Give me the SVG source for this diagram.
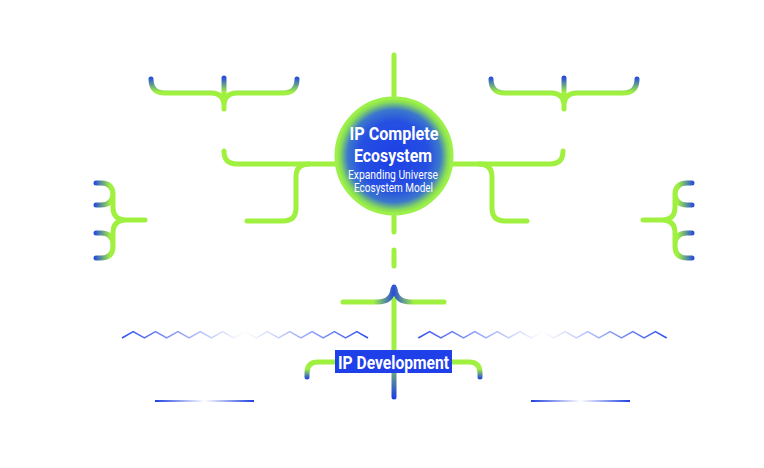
<svg xmlns="http://www.w3.org/2000/svg" width="764" height="468" viewBox="0 0 764 468">
<defs>
<style>
.g{fill:none;stroke:#a0f040;stroke-width:5;stroke-linecap:round;stroke-linejoin:round}
.zz{fill:none;stroke-width:1.5;stroke-linejoin:miter}
.t1{font-family:Roboto,"Liberation Sans",sans-serif;font-weight:bold;fill:#fff}
.t2{font-family:Roboto,"Liberation Sans",sans-serif;fill:#fff}
</style>
<radialGradient id="cg" cx="0.5" cy="0.5" r="0.5">
<stop offset="0" stop-color="#1c3fe6"/>
<stop offset="0.6" stop-color="#2650e2"/>
<stop offset="0.8" stop-color="#3c78cc"/>
<stop offset="0.93" stop-color="#86dc5a"/>
<stop offset="1" stop-color="#a0f040"/>
</radialGradient>
<linearGradient id="topB" gradientUnits="userSpaceOnUse" x1="0" y1="78" x2="0" y2="92">
<stop offset="0" stop-color="#2a4fd8"/><stop offset="1" stop-color="#a0f040"/>
</linearGradient>
<linearGradient id="lB" gradientUnits="userSpaceOnUse" x1="95" y1="0" x2="110" y2="0">
<stop offset="0" stop-color="#2a4fd8"/><stop offset="1" stop-color="#a0f040"/>
</linearGradient>
<linearGradient id="rB" gradientUnits="userSpaceOnUse" x1="693" y1="0" x2="678" y2="0">
<stop offset="0" stop-color="#2a4fd8"/><stop offset="1" stop-color="#a0f040"/>
</linearGradient>
<linearGradient id="vB" gradientUnits="userSpaceOnUse" x1="0" y1="286" x2="0" y2="398">
<stop offset="0" stop-color="#2a4fd8"/><stop offset="0.07" stop-color="#a0f040"/><stop offset="0.6" stop-color="#a0f040"/><stop offset="1" stop-color="#2040e0"/>
</linearGradient>
<linearGradient id="hB" gradientUnits="userSpaceOnUse" x1="343" y1="0" x2="444" y2="0">
<stop offset="0" stop-color="#a0f040"/><stop offset="0.3" stop-color="#a0f040"/><stop offset="0.5" stop-color="#2a4fd8"/><stop offset="0.7" stop-color="#a0f040"/><stop offset="1" stop-color="#a0f040"/>
</linearGradient>
<linearGradient id="dB" gradientUnits="userSpaceOnUse" x1="0" y1="362" x2="0" y2="378">
<stop offset="0" stop-color="#a0f040"/><stop offset="0.45" stop-color="#a0f040"/><stop offset="1" stop-color="#2a4fd8"/>
</linearGradient>
<linearGradient id="zL" gradientUnits="userSpaceOnUse" x1="122" y1="0" x2="368" y2="0">
<stop offset="0" stop-color="#3050f0" stop-opacity="1"/><stop offset="0.5" stop-color="#3050f0" stop-opacity="0"/><stop offset="1" stop-color="#3050f0" stop-opacity="1"/>
</linearGradient>
<linearGradient id="zR" gradientUnits="userSpaceOnUse" x1="418" y1="0" x2="667" y2="0">
<stop offset="0" stop-color="#3050f0" stop-opacity="1"/><stop offset="0.5" stop-color="#3050f0" stop-opacity="0"/><stop offset="1" stop-color="#3050f0" stop-opacity="1"/>
</linearGradient>
<linearGradient id="bL" gradientUnits="userSpaceOnUse" x1="155" y1="0" x2="254" y2="0">
<stop offset="0" stop-color="#2040e0" stop-opacity="1"/><stop offset="0.5" stop-color="#2040e0" stop-opacity="0"/><stop offset="1" stop-color="#2040e0" stop-opacity="1"/>
</linearGradient>
<linearGradient id="bR" gradientUnits="userSpaceOnUse" x1="531" y1="0" x2="630" y2="0">
<stop offset="0" stop-color="#2040e0" stop-opacity="1"/><stop offset="0.5" stop-color="#2040e0" stop-opacity="0"/><stop offset="1" stop-color="#2040e0" stop-opacity="1"/>
</linearGradient>
</defs>
<rect width="764" height="468" fill="#fff"/>
<g id="connectors">
<path class="g" d="M394,55 L394,98"/>
<path class="g" d="M394,216 L394,232 M394,250 L394,266"/>
<path class="g" d="M224,151 Q224,164 237,164 L340,164"/>
<path class="g" d="M309,164 Q296,164 296,177 L296,208 Q296,221 283,221 L247,221"/>
<path class="g" d="M563,151 Q563,164 550,164 L450,164"/>
<path class="g" d="M479,164 Q492,164 492,177 L492,208 Q492,221 505,221 L527,221"/>
<path class="g" style="stroke:url(#vB)" d="M394,287 L394,397"/>
<path class="g" style="stroke:url(#hB)" d="M343,302 L377,302 Q392,302 393,289 M444,302 L411,302 Q396,302 395,289"/>
<path class="g" style="stroke:url(#dB)" d="M335,362 L318,362 Q307,362 307,373 L307,377"/>
<path class="g" style="stroke:url(#dB)" d="M452,362 L469,362 Q480,362 480,373 L480,377"/>
</g>
<g id="brace-top-left">
<path class="g" style="stroke:url(#topB)" d="M151,79 Q151,93 165,93 L211,93 Q224,93 224,106 M297,79 Q297,93 283,93 L237,93 Q224,93 224,106 M224,78 L224,109"/>
</g>
<g id="brace-top-right">
<path class="g" style="stroke:url(#topB)" d="M491,79 Q491,93 505,93 L551,93 Q564,93 564,106 M637,79 Q637,93 623,93 L577,93 Q564,93 564,106 M564,78 L564,109"/>
</g>
<g id="brace-left">
<path class="g" style="stroke:url(#lB)" d="M96,183 L101,183 Q113,183 113,195 L113,207 Q113,220 126,220 L145,220 M96,205 L101,205 Q113,205 113,193 M96,258 L101,258 Q113,258 113,246 L113,233 Q113,220 126,220 M96,233 L101,233 Q113,233 113,245"/>
</g>
<g id="brace-right">
<path class="g" style="stroke:url(#rB)" d="M692,183 L687,183 Q675,183 675,195 L675,207 Q675,220 662,220 L643,220 M692,205 L687,205 Q675,205 675,193 M692,258 L687,258 Q675,258 675,246 L675,233 Q675,220 662,220 M692,233 L687,233 Q675,233 675,245"/>
</g>
<g id="zigzag-left">
<polyline class="zz" style="stroke:url(#zL)" points="122,338 133.2,331.5 144.4,338 155.5,331.5 166.7,338 177.9,331.5 189.1,338 200.3,331.5 211.4,338 222.6,331.5 233.8,338 245,331.5 256.2,338 267.3,331.5 278.5,338 289.7,331.5 300.9,338 312.1,331.5 323.2,338 334.4,331.5 345.6,338 356.8,331.5 368,338"/>
</g>
<g id="zigzag-right">
<polyline class="zz" style="stroke:url(#zR)" points="418.3,338 429.6,331.5 440.9,338 452.2,331.5 463.5,338 474.8,331.5 486,338 497.3,331.5 508.6,338 519.9,331.5 531.2,338 542.5,331.5 553.8,338 565.1,331.5 576.4,338 587.7,331.5 598.9,338 610.2,331.5 621.5,338 632.8,331.5 644.1,338 655.4,331.5 666.7,338"/>
</g>
<g id="line-bottom-left">
<line x1="155" y1="401" x2="254" y2="401" stroke="url(#bL)" stroke-width="2"/>
</g>
<g id="line-bottom-right">
<line x1="531" y1="401" x2="630" y2="401" stroke="url(#bR)" stroke-width="2"/>
</g>
<g id="center">
<circle cx="394" cy="156" r="58" fill="url(#cg)" stroke="#9cf04a" stroke-width="3"/>
<text class="t1" x="394" y="140" font-size="19" text-anchor="middle" textLength="89" lengthAdjust="spacingAndGlyphs">IP Complete</text>
<text class="t1" x="393" y="161.5" font-size="19" text-anchor="middle" textLength="78" lengthAdjust="spacingAndGlyphs">Ecosystem</text>
<text class="t2" x="393" y="178.5" font-size="12" text-anchor="middle" textLength="90" lengthAdjust="spacingAndGlyphs">Expanding Universe</text>
<text class="t2" x="393.5" y="191.5" font-size="12" text-anchor="middle" textLength="79" lengthAdjust="spacingAndGlyphs">Ecosystem Model</text>
</g>
<g id="ip-development">
<rect x="335" y="350" width="117" height="23" fill="#1f3fe8"/>
<text class="t1" x="393.5" y="368.5" font-size="19" text-anchor="middle" textLength="111" lengthAdjust="spacingAndGlyphs">IP Development</text>
</g>
</svg>
